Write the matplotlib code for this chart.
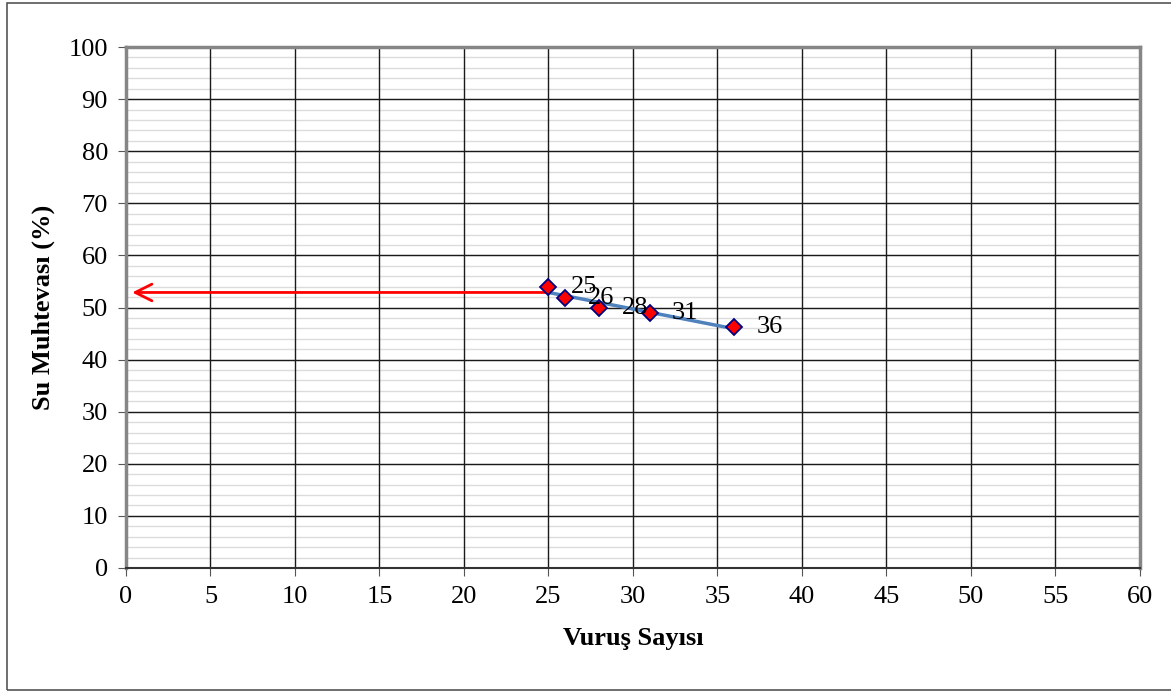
import matplotlib.pyplot as plt
import numpy as np
from matplotlib.patches import Rectangle

# data
vurus = [25, 26, 28, 31, 36]
su = [54.0, 51.9, 50.0, 48.9, 46.3]
labels = ["25", "26", "28", "31", "36"]

x_ticks = list(range(0, 61, 5))
y_ticks = list(range(0, 101, 10))
y_minor = list(range(0, 101, 2))

plt.rcParams['font.family'] = ['Liberation Serif', 'DejaVu Serif']

fig = plt.figure(figsize=(11.71, 6.95), dpi=100)
ax = fig.add_axes([126 / 1171, 127 / 695, 1014 / 1171, 521 / 695])

# outer chart border
fig.patches.append(Rectangle((7 / 1171, 5 / 695), 1.2, 687 / 695,
                             transform=fig.transFigure, fill=False,
                             edgecolor='#555555', lw=1.2))

ax.set_xlim(0, 60)
ax.set_ylim(0, 100)
ax.set_xticks(x_ticks)
ax.set_yticks(y_ticks)
ax.tick_params(axis='both', which='major', labelsize=19, length=6,
               direction='out', color='#555555', pad=7)
ax.grid(True, which='major', color='#1a1a1a', lw=1.0)
ax.set_axisbelow(True)
# light minor lines sit under the major grid
ax.hlines(y_minor, 0, 60, color='#dcdcdc', lw=1.0, zorder=0.1)

for s in ['left', 'top', 'right']:
    ax.spines[s].set_color('#868686')
    ax.spines[s].set_linewidth(2.5)
ax.spines['bottom'].set_color('#333333')
ax.spines['bottom'].set_linewidth(1.5)

# linear trend line from the data
k, b = np.polyfit(vurus, su, 1)
tx = np.array([min(vurus), max(vurus)])
ax.plot(tx, k * tx + b, color='#4f81bd', lw=2.5, zorder=3)

ax.plot(vurus, su, linestyle='none', marker='D', markersize=8,
        markerfacecolor='red', markeredgecolor='#000080',
        markeredgewidth=1.3, zorder=4)

for xv, yv, t in zip(vurus, su, labels):
    ax.annotate(t, (xv, yv), xytext=(16, 0), textcoords='offset points',
                fontsize=19, va='center', ha='left', zorder=5)

# arrow at 25 blows
y25 = k * 25 + b
ax.annotate('', xy=(0.2, y25), xytext=(25, y25),
            arrowprops=dict(arrowstyle='->', color='red', lw=2,
                            mutation_scale=30), zorder=3)

ax.set_xlabel('Vuruş Sayısı', fontsize=19, fontweight='bold', labelpad=14)
ax.set_ylabel('Su Muhtevası (%)', fontsize=19, fontweight='bold', labelpad=10)

fig.savefig('out.png', dpi=100)
